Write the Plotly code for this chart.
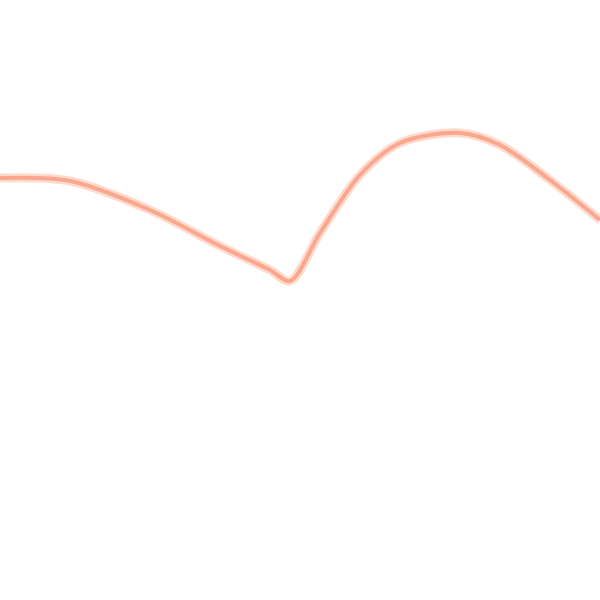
import plotly.graph_objects as go

x_vals = [0, 70, 150, 220, 270, 290, 320, 360, 400, 460, 500, 550, 600]
y_vals = [422, 419, 390, 354, 330, 319, 367, 425, 457, 467, 455, 420, 380]

fig = go.Figure()
# soft halo under the line, the reference looks blurred
fig.add_trace(go.Scatter(
    x=x_vals, y=y_vals, mode="lines",
    line=dict(color="rgba(252,195,170,0.6)", width=9, shape="spline", smoothing=0.9),
    hoverinfo="skip", showlegend=False,
))
fig.add_trace(go.Scatter(
    x=x_vals, y=y_vals, mode="lines",
    line=dict(color="#fba68e", width=4, shape="spline", smoothing=0.9),
    showlegend=False,
))

fig.update_layout(
    width=600, height=600,
    margin=dict(l=0, r=0, t=0, b=0),
    paper_bgcolor="white", plot_bgcolor="white",
    xaxis=dict(range=[0, 600], visible=False),
    yaxis=dict(range=[0, 600], visible=False),
)
# drop the page's default body margin so the plot sits at the window corner
fig.write_html("out.html", config={"displayModeBar": False},
               post_script="document.body.style.margin='0';")
